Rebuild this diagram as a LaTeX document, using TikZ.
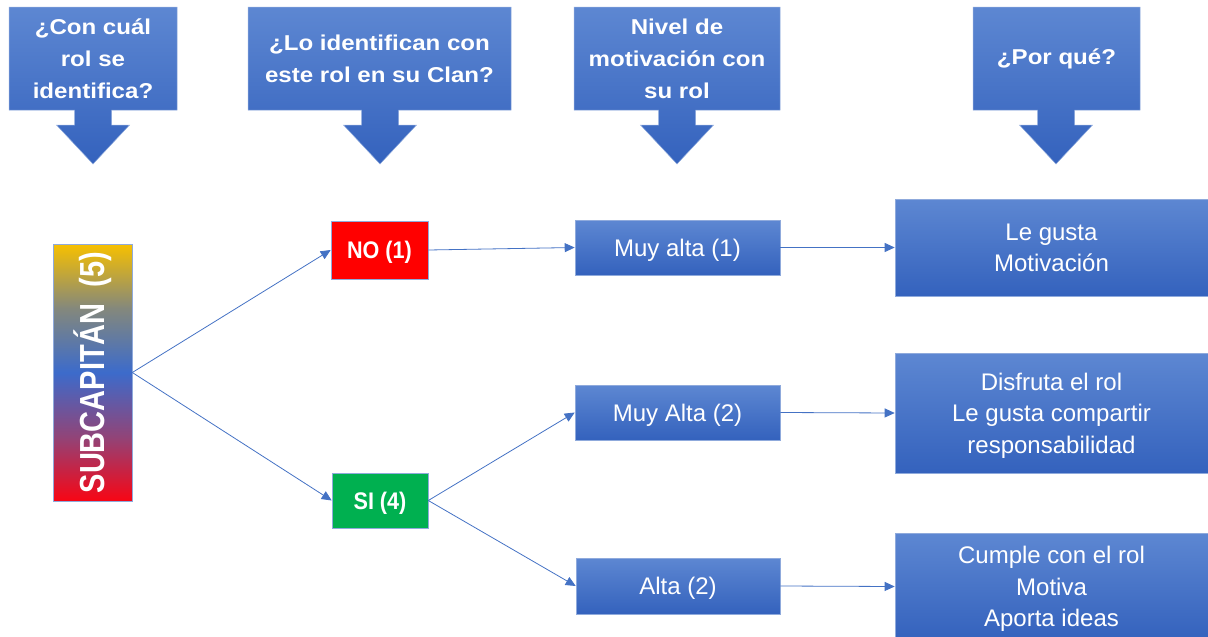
\documentclass[tikz,border=0pt]{standalone}
\usepackage{fontspec}
\setmainfont{Liberation Sans}
\newfontfamily\hdrfont[FakeStretch=1.12]{Liberation Sans}
\newfontfamily\narrowfont[FakeStretch=0.9]{Liberation Sans}
\usetikzlibrary{arrows.meta}
\definecolor{boxtop}{HTML}{5D87D2}
\definecolor{boxbot}{HTML}{3462BD}
\definecolor{edgeblue}{HTML}{8FAADC}
\definecolor{linkblue}{HTML}{4472C4}
\definecolor{nored}{HTML}{FF0000}
\definecolor{sigreen}{HTML}{00B050}
\definecolor{scred}{HTML}{F80514}
\definecolor{scpurple}{HTML}{914478}
\definecolor{scblue}{HTML}{3C6BCB}
\definecolor{scolive}{HTML}{84887C}
\definecolor{scyellow}{HTML}{F7C000}
\pgfdeclareverticalshading{subcapshade}{100bp}{color(0bp)=(scred); color(25bp)=(scred); color(37.5bp)=(scpurple); color(50bp)=(scblue); color(62.5bp)=(scolive); color(75bp)=(scyellow); color(100bp)=(scyellow)}
\newcommand{\calloutshape}[3]{%
  \path[calloutstyle] (#1,7) -- (#2,7) -- (#2,110) -- (#3+18.5,110) -- (#3+18.5,125) -- (#3+36.5,125) -- (#3,164) -- (#3-36.5,125) -- (#3-18.5,125) -- (#3-18.5,110) -- (#1,110) -- cycle;}
\tikzset{
  calloutstyle/.style={draw=edgeblue, line width=0.5pt, top color=boxtop, bottom color=boxbot},
  hdrtext/.style={text=white, align=center, inner sep=0pt, font=\hdrfont\bfseries\fontsize{21.5}{32}\selectfont},
  bluebox/.style={draw=edgeblue, line width=0.6pt, top color=boxtop, bottom color=boxbot, text=white, align=center, inner sep=0pt, text depth=0pt, font=\fontsize{24}{31.5}\selectfont},
  answerbox/.style={draw=edgeblue, line width=0.6pt, text=white, inner sep=0pt, text depth=0pt, font=\narrowfont\bfseries\fontsize{24}{24}\selectfont},
  link/.style={draw=linkblue, line width=0.8pt, -{Triangle[length=10pt,width=9pt]}}
}
\begin{document}
\begin{tikzpicture}[x=1pt, y=-1pt]
\useasboundingbox (0,0) rectangle (1208,637);
% header callouts
\calloutshape{9}{177}{93}
\calloutshape{248}{511}{380}
\calloutshape{574}{780}{677}
\calloutshape{973}{1140}{1056}
\node[hdrtext] (h1) at (93,59) {¿Con cuál\\rol se\\identifica?};
\node[hdrtext] (h2) at (379.5,59) {¿Lo identifican con\\este rol en su Clan?};
\node[hdrtext] (h3) at (677,59) {Nivel de\\motivación con\\su rol};
\node[hdrtext] (h4) at (1056.5,59) {¿Por qué?};
% role
\node[draw=edgeblue, line width=0.6pt, shading=subcapshade, minimum width=79pt, minimum height=257pt, inner sep=0pt, text=white] (sub) at (92.5,372.5)
  {\rotatebox{90}{\scalebox{1}[1.2]{\bfseries\fontsize{29}{29}\selectfont SUBCAPITÁN\ \ (5)}}};
% answers
\node[answerbox, fill=nored, minimum width=97pt, minimum height=58pt] (no) at (379.5,250) {NO (1)};
\node[answerbox, fill=sigreen, minimum width=96pt, minimum height=55pt] (si) at (380,500.5) {SI (4)};
% motivation
\node[bluebox, minimum width=205pt, minimum height=55pt] (ma1) at (677.5,247.5) {Muy alta (1)};
\node[bluebox, minimum width=205pt, minimum height=55pt] (ma2) at (677.5,412.5) {Muy Alta (2)};
\node[bluebox, minimum width=204pt, minimum height=56pt] (a2) at (678,586) {Alta (2)};
% reasons
\node[bluebox, minimum width=313pt, minimum height=97pt] (r1) at (1051.5,247.5) {Le gusta\\Motivación};
\node[bluebox, minimum width=313pt, minimum height=120pt] (r2) at (1051.5,413) {Disfruta el rol\\Le gusta compartir\\responsabilidad};
\node[bluebox, minimum width=313pt, minimum height=107pt] (r3) at (1051.5,586.5) {Cumple con el rol\\Motiva\\Aporta ideas};
% connectors
\draw[link] (sub.east) -- (no.west);
\draw[link] (sub.east) -- (si.west);
\draw[link] (no.east) -- (ma1.west);
\draw[link] (si.east) -- (ma2.west);
\draw[link] (si.east) -- (a2.west);
\draw[link] (ma1.east) -- (r1.west);
\draw[link] (ma2.east) -- (r2.west);
\draw[link] (a2.east) -- (r3.west);
\end{tikzpicture}
\end{document}
